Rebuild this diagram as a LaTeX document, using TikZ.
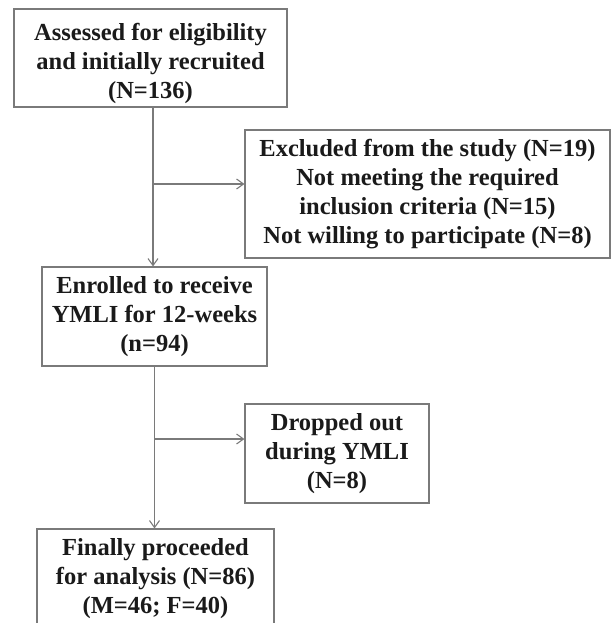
\documentclass[tikz,border=0pt]{standalone}
\usepackage{fontspec}
\setmainfont{Liberation Serif}
\usetikzlibrary{arrows.meta}
\definecolor{linegray}{HTML}{7A7A7A}
\definecolor{txt}{HTML}{1A1A1A}
\begin{document}
\begin{tikzpicture}[x=1pt,y=-1pt,
  box/.style={draw=linegray, line width=1.1pt, fill=white, text=txt, align=center,
    inner xsep=0pt, inner ysep=0pt, font=\fontsize{24.5}{28.8}\selectfont\bfseries},
  arr/.style={draw=linegray, line width=1.1pt, -{Straight Barb[length=7pt,width=10pt,line width=1.1pt]}}]
\useasboundingbox (0,0) rectangle (612,623);
\clip (0,0) rectangle (612,623);
\node[box, minimum width=273pt, minimum height=98pt] (b1) at (150.5,58)
  {\rule{0pt}{4pt}\\[-4pt]Assessed for eligibility\\and initially recruited\\(N=136)};
\node[box, minimum width=365pt, minimum height=128pt] (b2) at (427.5,194)
  {Excluded from the study (N=19)\\Not meeting the required\\inclusion criteria (N=15)\\Not willing to participate (N=8)};
\node[box, minimum width=225pt, minimum height=99pt] (b3) at (154.5,316.5)
  {Enrolled to receive\\YMLI for 12-weeks\\(n=94)};
\node[box, minimum width=184pt, minimum height=99pt] (b4) at (337,453.5)
  {Dropped out\\during YMLI\\(N=8)};
\node[box, minimum width=237pt, minimum height=99pt] (b5) at (155.5,578.5)
  {Finally proceeded\\for analysis (N=86)\\(M=46; F=40)};
\coordinate (j1) at (153,184);
\coordinate (j2) at (154.5,439);
\draw[arr] (b1.south -| j1) -- (b3.north -| j1);
\draw[arr] (j1) -- (b2.west |- j1);
\draw[arr] (b3.south -| j2) -- (b5.north -| j2);
\draw[arr] (j2) -- (b4.west |- j2);
\end{tikzpicture}
\end{document}
